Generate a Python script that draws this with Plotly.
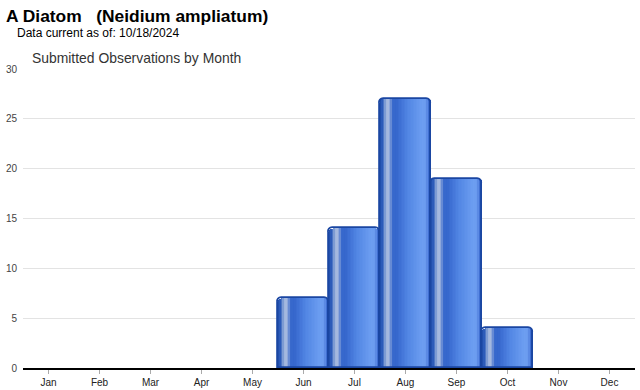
import plotly.graph_objects as go
import numpy as np

months = ["Jan", "Feb", "Mar", "Apr", "May", "Jun", "Jul", "Aug", "Sep", "Oct", "Nov", "Dec"]
observations = [0, 0, 0, 0, 0, 7, 14, 27, 19, 4, 0, 0]
y_ticks = [0, 5, 10, 15, 20, 25, 30]

title_text = "A Diatom   (Neidium ampliatum)"
subtitle_text = "Data current as of: 10/18/2024"
chart_title = "Submitted Observations by Month"

# horizontal colour profile of the cylinder-like bars (position fraction, colour)
profile = [
    (0.00, (0x1d, 0x4a, 0xa6)),
    (0.04, (0x28, 0x58, 0xb8)),
    (0.08, (0x55, 0x7c, 0xc8)),
    (0.12, (0x9c, 0xb3, 0xdc)),
    (0.16, (0xa6, 0xba, 0xe0)),
    (0.20, (0x86, 0xa2, 0xda)),
    (0.25, (0x3a, 0x6a, 0xcc)),
    (0.32, (0x35, 0x66, 0xcc)),
    (0.55, (0x52, 0x86, 0xe4)),
    (0.84, (0x6e, 0x9f, 0xf2)),
    (0.91, (0x6a, 0x9a, 0xee)),
    (0.96, (0x3d, 0x6c, 0xd0)),
    (1.00, (0x1d, 0x4a, 0xa6)),
]
pos = np.array([p for p, _ in profile])
cols = np.array([c for _, c in profile], dtype=float)


def color_at(t):
    r = np.interp(t, pos, cols[:, 0])
    g = np.interp(t, pos, cols[:, 1])
    b = np.interp(t, pos, cols[:, 2])
    return f"rgb({int(r)},{int(g)},{int(b)})"


fig = go.Figure()

N = 34
px_per_unit = 299 / 30.0
cat_px = 51.0
radius_px = 5.0
shown = [v if v > 0 else None for v in observations]
for i in range(N):
    t = (i + 0.5) / N
    d_px = min(t, 1 - t) * cat_px
    drop_px = 0.0
    if d_px < radius_px:
        drop_px = radius_px - np.sqrt(radius_px**2 - (radius_px - d_px) ** 2)
    ys = [None if v is None else max(v - 0.6 * drop_px / px_per_unit, 0) for v in shown]
    fig.add_trace(go.Bar(
        x=months, y=ys,
        width=1.0 / N + 0.005,
        offset=-0.5 + i / N,
        marker=dict(color=color_at(t), line=dict(width=0)),
        hoverinfo="skip", showlegend=False,
    ))

# outline with rounded corners
fig.add_trace(go.Bar(
    x=months, y=shown, width=1.0, offset=-0.5,
    marker=dict(color="rgba(0,0,0,0)", line=dict(color="#1a46a2", width=1.8), cornerradius=5),
    hoverinfo="skip", showlegend=False,
))

fig.update_layout(
    width=640, height=390,
    margin=dict(l=23, r=5, t=69, b=22),
    paper_bgcolor="white", plot_bgcolor="white",
    barmode="overlay", bargap=0,
    font=dict(family="Arial, Liberation Sans, sans-serif", color="#222"),
    xaxis=dict(
        type="category", range=[-0.5, 11.5],
        showline=True, linecolor="#000", linewidth=1.5,
        ticks="outside", ticklen=4, tickcolor="#aaa",
        tickfont=dict(size=10, color="#222"),
        showgrid=False, fixedrange=True, automargin=False,
    ),
    yaxis=dict(
        range=[0, 30], tickvals=y_ticks,
        showgrid=True, gridcolor="#e3e3e3", gridwidth=1,
        zeroline=False, showline=False,
        tickfont=dict(size=10, color="#444"),
        ticklabelstandoff=5,
        fixedrange=True, automargin=False,
    ),
    annotations=[
        dict(text="<b>" + title_text + "</b>", xref="paper", yref="paper",
             x=0, y=1, xanchor="left", yanchor="top", xshift=-19, yshift=65,
             showarrow=False, font=dict(size=17.4, color="#000")),
        dict(text=subtitle_text, xref="paper", yref="paper",
             x=0, y=1, xanchor="left", yanchor="top", xshift=-8, yshift=45,
             showarrow=False, font=dict(size=12, color="#000")),
        dict(text=chart_title, xref="paper", yref="paper",
             x=0, y=1, xanchor="left", yanchor="top", xshift=7, yshift=21,
             showarrow=False, font=dict(size=13.9, color="#333")),
    ],
)

fig.write_html("out.html", config={"displayModeBar": False},
               post_script="document.body.style.margin='0';")
